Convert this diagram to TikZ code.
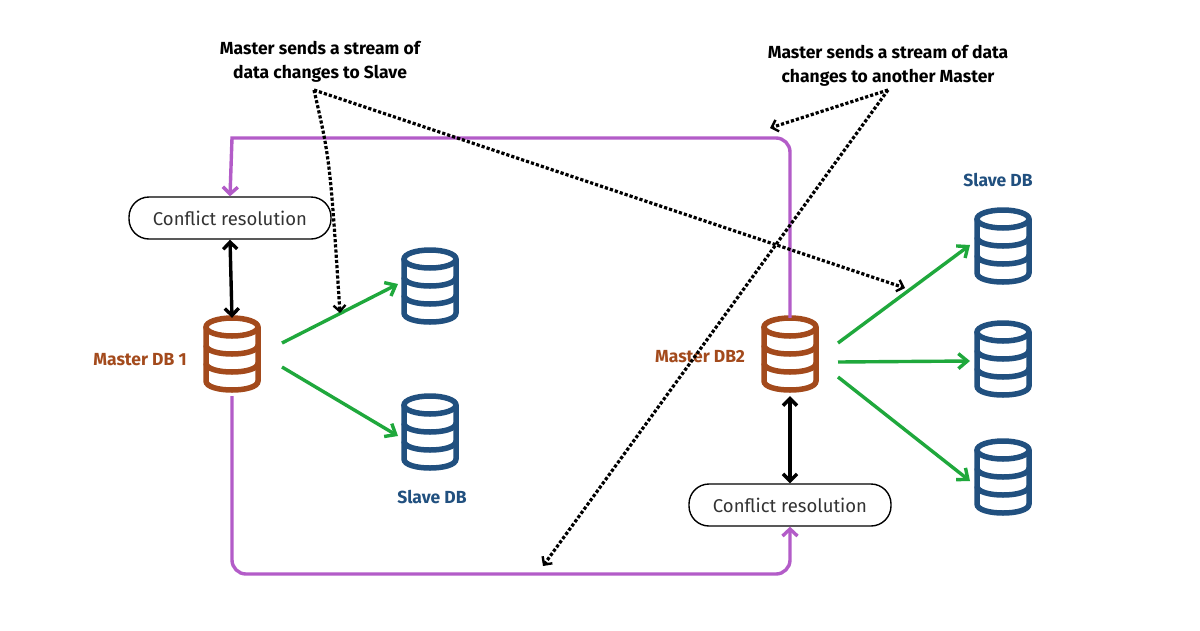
\documentclass[tikz,border=0pt]{standalone}
\usepackage{fontspec}
\setmainfont{Fira Sans}
\usetikzlibrary{arrows.meta}
\definecolor{pur}{HTML}{B35CC8}
\definecolor{grn}{HTML}{1FA83C}
\definecolor{brn}{HTML}{A34A1C}
\definecolor{blu}{HTML}{21507F}
\begin{document}
\begin{tikzpicture}[x=1pt,y=-1pt,
  db/.style={minimum width=60pt,minimum height=78pt,inner sep=0pt},
  cr/.style={draw,line width=1.4pt,rounded corners=20pt,minimum width=202pt,minimum height=42pt,font=\fontsize{18.5}{20}\selectfont,text=black!80},
  pl/.style={pur,line width=3.4pt},
  ga/.style={grn,line width=3.4pt,-{Straight Barb[length=9pt,width=15pt]}},
  ba/.style={black,line width=3.4pt,{Straight Barb[length=7pt,width=14pt]}-{Straight Barb[length=7pt,width=14pt]}},
  da/.style={black,line width=3.2pt,dotted,-{Straight Barb[length=6pt,width=12pt,line width=2.4pt]}},
  lab/.style={font=\fontsize{17.5}{19}\selectfont\bfseries},
  capt/.style={font=\fontsize{17.5}{24}\selectfont\bfseries,align=center}]
\useasboundingbox (0,0) rectangle (1200,630);
\fill[white] (0,0) rectangle (1200,630);
\newcommand{\dbicon}[3]{%
 \begin{scope}[shift={(#1,#2)},#3,line width=5.5pt]
  \draw (0,-28) ellipse [x radius=26,y radius=9];
  \draw (-26,-28) -- (-26,26) .. controls (-26,38) and (26,38) .. (26,26) -- (26,-28);
  \draw (-26,-10) .. controls (-26,2) and (26,2) .. (26,-10);
  \draw (-26,8) .. controls (-26,20) and (26,20) .. (26,8);
 \end{scope}}
\dbicon{232}{355}{brn}
\dbicon{790}{355}{brn}
\dbicon{430}{287}{blu}
\dbicon{430}{433}{blu}
\dbicon{1003}{247}{blu}
\dbicon{1003}{360}{blu}
\dbicon{1003}{478}{blu}
\node[db] (m1) at (232,357) {};
\node[db] (m2) at (790,357) {};
\node[db] (s1) at (430,287) {};
\node[db] (s2) at (430,435) {};
\node[db] (s3) at (1003,247) {};
\node[db] (s4) at (1003,362) {};
\node[db] (s5) at (1003,480) {};
\node[cr] (c1) at (230,218) {Conflict resolution};
\node[cr] (c2) at (790,505) {Conflict resolution};
\node[lab,text=brn] (l1) at (140,360) {Master DB 1};
\node[lab,text=brn] (l2) at (700,357) {Master DB2};
\node[lab,text=blu] (l3) at (432,497) {Slave DB};
\node[lab,text=blu] (l4) at (998,180) {Slave DB};
\node[capt] (t1) at (320,62) {Master sends a stream of\\data changes to Slave};
\node[capt] (t2) at (888,66) {Master sends a stream of data\\changes to another Master};
\coordinate (p1) at (232,574);
\coordinate (p2) at (790,574);
\coordinate (q1) at (790,138);
\coordinate (q2) at (232,138);
\draw[pl,-{Straight Barb[length=7pt,width=15pt]}] (m1.south) [rounded corners=14pt] -- (p1) -- (p2) [sharp corners] -- (c2.south);
\draw[pl,-{Straight Barb[length=7pt,width=15pt]}] (m2.north) [rounded corners=14pt] -- (q1) [sharp corners] -- (q2) -- (c1.north);
\draw[ba] (c1.south) -- (m1.north);
\draw[ba] (m2.south) -- (c2.north);
\draw[ga] (282,343) -- (398,284);
\draw[ga] (282,367) -- (398,436);
\draw[ga] (838,343) -- (970,245);
\draw[ga] (838,362) -- (970,361);
\draw[ga] (838,377) -- (970,481);
\coordinate (d1) at (314,90);
\coordinate (d2) at (888,90);
\coordinate (e1) at (340,313);
\coordinate (e2) at (905,288);
\coordinate (e3) at (770,128);
\coordinate (e4) at (543,566);
\draw[da] (d1) .. controls (330,160) .. (e1);
\draw[da] (d1) -- (e2);
\draw[da] (d2) -- (e3);
\draw[da] (d2) -- (e4);
\end{tikzpicture}
\end{document}
